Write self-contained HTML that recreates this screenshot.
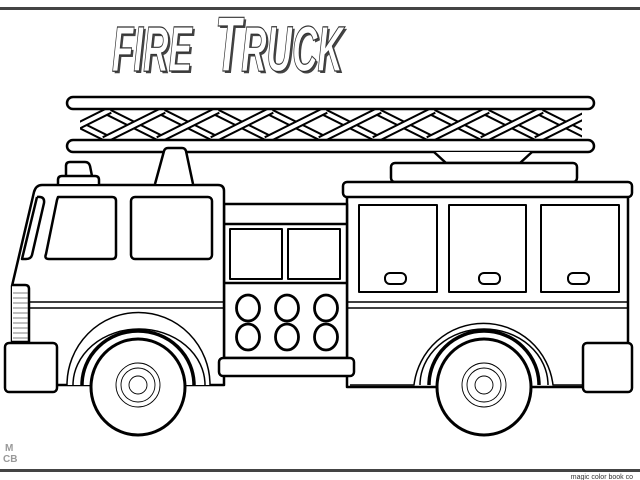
<!DOCTYPE html>
<html><head><meta charset="utf-8"><style>
html,body{margin:0;padding:0;background:#fff;width:640px;height:480px;overflow:hidden}
svg{display:block}
</style></head><body>
<svg width="640" height="480" viewBox="0 0 640 480" xmlns="http://www.w3.org/2000/svg">
<rect width="640" height="480" fill="#fff"/>
<rect x="0" y="7" width="640" height="3" fill="#444"/>
<rect x="0" y="469" width="640" height="3" fill="#444"/>
<text x="633" y="479" font-family="Liberation Sans, sans-serif" font-size="7" fill="#333" text-anchor="end">magic color book co</text>
<text x="5" y="451" font-family="Liberation Sans, sans-serif" font-size="10" font-weight="bold" fill="#999">M</text>
<text x="3" y="462" font-family="Liberation Sans, sans-serif" font-size="10" font-weight="bold" fill="#999">CB</text>

<!-- title -->
<g font-family="Liberation Sans, sans-serif" font-weight="bold" font-style="italic">
<text x="114" y="73" font-size="64" fill="#444" textLength="80" lengthAdjust="spacingAndGlyphs">FIRE</text>
<text x="112" y="71" font-size="64" fill="#fff" stroke="#333" stroke-width="1.2" textLength="80" lengthAdjust="spacingAndGlyphs">FIRE</text>
<text x="217" y="73" font-size="78" fill="#444" textLength="128" lengthAdjust="spacingAndGlyphs">T<tspan font-size="64">RUCK</tspan></text>
<text x="215" y="71" font-size="78" fill="#fff" stroke="#333" stroke-width="1.2" textLength="128" lengthAdjust="spacingAndGlyphs">T<tspan font-size="64">RUCK</tspan></text>
</g>

<g fill="none" stroke="#000" stroke-width="2.5" stroke-linejoin="round">
<defs><clipPath id="lc"><rect x="80" y="108" width="502" height="34"/></clipPath></defs>
<g clip-path="url(#lc)">
<g stroke="#000" stroke-width="8">
<path d="M50 110 L110 140 M104 110 L164 140 M158 110 L218 140 M212 110 L272 140 M266 110 L326 140 M320 110 L380 140 M374 110 L434 140 M428 110 L488 140 M482 110 L542 140 M536 110 L596 140"/>
</g>
<g stroke="#fff" stroke-width="4">
<path d="M50 110 L110 140 M104 110 L164 140 M158 110 L218 140 M212 110 L272 140 M266 110 L326 140 M320 110 L380 140 M374 110 L434 140 M428 110 L488 140 M482 110 L542 140 M536 110 L596 140"/>
</g>
<g stroke="#000" stroke-width="8">
<path d="M110 110 L50 140 M164 110 L104 140 M218 110 L158 140 M272 110 L212 140 M326 110 L266 140 M380 110 L320 140 M434 110 L374 140 M488 110 L428 140 M542 110 L482 140 M596 110 L536 140 M650 110 L590 140"/>
</g>
<g stroke="#fff" stroke-width="4">
<path d="M110 110 L50 140 M164 110 L104 140 M218 110 L158 140 M272 110 L212 140 M326 110 L266 140 M380 110 L320 140 M434 110 L374 140 M488 110 L428 140 M542 110 L482 140 M596 110 L536 140 M650 110 L590 140"/>
</g>
</g>
<rect x="67" y="97" width="527" height="12" rx="6" fill="#fff"/>
<rect x="67" y="140" width="527" height="12" rx="6" fill="#fff"/>

<path d="M434 152 L446 163 L520 163 L532 152" fill="#fff"/>
<rect x="391" y="163" width="186" height="19" rx="4" fill="#fff"/>
<rect x="347" y="195" width="281" height="192" fill="#fff"/>
<rect x="343" y="182" width="289" height="15" rx="4" fill="#fff"/>
<g stroke-width="2">
<rect x="359" y="205" width="78" height="87"/>
<rect x="449" y="205" width="77" height="87"/>
<rect x="541" y="205" width="78" height="87"/>
<rect x="385" y="273" width="21" height="11" rx="5"/>
<rect x="479" y="273" width="21" height="11" rx="5"/>
<rect x="568" y="273" width="21" height="11" rx="5"/>
</g>

<rect x="224" y="204" width="123" height="154" fill="#fff"/>
<path d="M224 224 H347"/>
<g stroke-width="2">
<rect x="230" y="229" width="52" height="50"/>
<rect x="288" y="229" width="52" height="50"/>
</g>
<path d="M224 283 H347"/>
<g stroke-width="2.8">
<ellipse cx="248" cy="308" rx="11.5" ry="13"/>
<ellipse cx="287" cy="308" rx="11.5" ry="13"/>
<ellipse cx="326" cy="308" rx="11.5" ry="13"/>
<ellipse cx="248" cy="337" rx="11.5" ry="13"/>
<ellipse cx="287" cy="337" rx="11.5" ry="13"/>
<ellipse cx="326" cy="337" rx="11.5" ry="13"/>
</g>

<path d="M42 185 H218 Q224 185 224 191 V385 H12 V286 L34 192 Q36 185 42 185 Z" fill="#fff"/>
<path d="M58 197 H112 Q116 197 116 201 V255 Q116 259 112 259 H49 Q44 259 46 254 L57 200 Z"/>
<rect x="131" y="197" width="81" height="62" rx="4"/>
<path d="M37 197 Q45 196 44 203 L32 255 Q31 259 26 259 H22 L37 197"/>
<path d="M66 176 V166 Q66 162 70 162 H85 Q89 162 90 166 L92 176" fill="#fff"/>
<path d="M58 184 V180 Q58 176 62 176 H95 Q99 176 99 180 V184" fill="#fff"/>
<path d="M155 184 L164 151 Q165 148 168 148 H182 Q185 148 186 151 L193 184" fill="#fff"/>

<g stroke-width="1.5">
<path d="M29 302 H224 M29 308 H224 M347 302 H628 M347 308 H628"/>
</g>
<path d="M12 285 H25 Q29 285 29 289 V342 H12" fill="#fff"/>
<g stroke-width="0.8" stroke="#555"><path d="M13 293 H28 M13 298 H28 M13 303 H28 M13 308 H28 M13 313 H28 M13 318 H28 M13 323 H28 M13 328 H28 M13 333 H28 M13 338 H28"/></g>

<path d="M55 385 H67 A71 72 0 0 1 210 385 H224" fill="#fff" stroke-width="1.5"/>
<path d="M350 385 H414 A70 70 0 0 1 553 385 H583" fill="#fff" stroke-width="1.5"/>
<path d="M73 385 A66 56 0 0 1 205 385" stroke-width="1.5"/>
<path d="M420 385 A64 56 0 0 1 548 385" stroke-width="1.5"/>
<path d="M82 385 A56 54 0 0 1 194 385" stroke-width="3.5"/>
<path d="M429 385 A55 54 0 0 1 539 385" stroke-width="3.5"/>

<ellipse cx="138" cy="387" rx="47" ry="48" fill="#fff" stroke-width="3"/>
<ellipse cx="484" cy="387" rx="47" ry="48" fill="#fff" stroke-width="3"/>
<g stroke-width="0.9">
<circle cx="138" cy="385" r="22"/><circle cx="138" cy="385" r="17"/><circle cx="138" cy="385" r="9"/>
<circle cx="484" cy="385" r="22"/><circle cx="484" cy="385" r="17"/><circle cx="484" cy="385" r="9"/>
</g>

<rect x="5" y="343" width="52" height="49" rx="4" fill="#fff"/>
<rect x="583" y="343" width="49" height="49" rx="4" fill="#fff"/>
<rect x="219" y="358" width="135" height="18" rx="4" fill="#fff"/>
</g>
</svg>
</body></html>
